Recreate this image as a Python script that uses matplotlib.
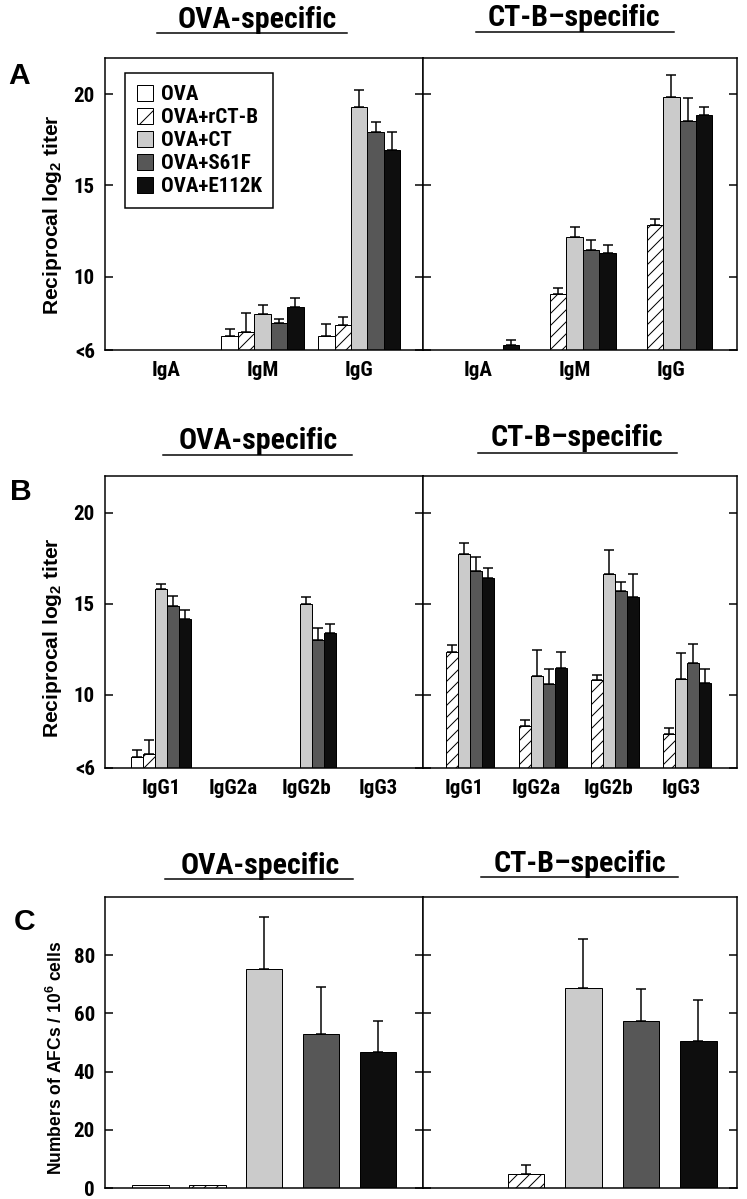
import numpy as np
import matplotlib
matplotlib.use('Agg')
import matplotlib.pyplot as plt
from matplotlib import font_manager as fm
from matplotlib.lines import Line2D
from matplotlib.patches import Patch

nan = np.nan

# ---------------- data ----------------
series = ['OVA', 'OVA+rCT-B', 'OVA+CT', 'OVA+S61F', 'OVA+E112K']
iso_A = ['IgA', 'IgM', 'IgG']
iso_B = ['IgG1', 'IgG2a', 'IgG2b', 'IgG3']

# Panel A (reciprocal log2 titer); nan = below detection (<6)
A_ova_mean = [[nan, nan, nan, nan, nan],
              [6.77, 7.01, 7.97, 7.50, 8.33],
              [6.77, 7.36, 19.31, 17.95, 16.92]]
A_ova_err = [[nan, nan, nan, nan, nan],
             [0.37, 0.99, 0.51, 0.19, 0.50],
             [0.65, 0.42, 0.92, 0.51, 1.03]]
A_ctb_mean = [[nan, nan, nan, nan, 6.26],
              [nan, 9.07, 12.18, 11.48, 11.31],
              [nan, 12.82, 19.86, 18.50, 18.83]]
A_ctb_err = [[nan, nan, nan, nan, 0.31],
             [nan, 0.31, 0.53, 0.53, 0.44],
             [nan, 0.37, 1.18, 1.27, 0.48]]

# Panel B (IgG subclasses)
B_ova_mean = [[6.59, 6.74, 15.83, 14.86, 14.18],
              [nan, nan, nan, nan, nan],
              [nan, nan, 14.99, 12.99, 13.41],
              [nan, nan, nan, nan, nan]]
B_ova_err = [[0.42, 0.82, 0.24, 0.59, 0.48],
             [nan, nan, nan, nan, nan],
             [nan, nan, 0.39, 0.66, 0.46],
             [nan, nan, nan, nan, nan]]
B_ctb_mean = [[nan, 12.38, 17.75, 16.79, 16.39],
              [nan, 8.30, 11.06, 10.63, 11.46],
              [nan, 10.80, 16.64, 15.71, 15.39],
              [nan, 7.84, 10.87, 11.77, 10.65]]
B_ctb_err = [[nan, 0.38, 0.57, 0.79, 0.55],
             [nan, 0.31, 1.41, 0.79, 0.92],
             [nan, 0.31, 1.29, 0.46, 1.24],
             [nan, 0.33, 1.44, 1.03, 0.77]]

# Panel C (AFCs / 10^6 cells)
C_ova_mean = [1.0, 1.0, 75.4, 52.9, 46.6]
C_ova_err = [0.0, 0.0, 17.7, 16.1, 10.7]
C_ctb_mean = [nan, 4.9, 68.8, 57.3, 50.4]
C_ctb_err = [nan, 2.9, 16.6, 11.2, 14.2]

titer_ticks = [6, 10, 15, 20]
titer_ticklabels = ['<6', '10', '15', '20']
afc_ticks = [0, 20, 40, 60, 80]
afc_ticklabels = ['0', '20', '40', '60', '80']

# ---------------- style ----------------
fills = ['white', 'white', '#cbcbcb', '#575757', '#0e0e0e']
hatches = [None, '//', None, None, None]


def _wnum(w):
    if isinstance(w, (int, float)):
        return w
    return fm.weight_dict.get(str(w).lower(), 400)


# find a bold condensed face (Helvetica Condensed look-alike)
cond_file = None
pref = ['Liberation Sans Narrow', 'Roboto Condensed', 'DejaVu Sans Condensed',
        'Open Sans Condensed', 'Nimbus Sans Narrow', 'Arial Narrow']
cands = []
for f in fm.fontManager.ttflist:
    narrow = ('Narrow' in f.name or 'Condensed' in f.name or
              str(f.stretch) in ('condensed', 'semi-condensed', 'extra-condensed') or
              (isinstance(f.stretch, (int, float)) and f.stretch < 500))
    if narrow and _wnum(f.weight) >= 600 and 'Mono' not in f.name and 'Serif' not in f.name \
            and 'italic' not in str(f.style).lower() and 'oblique' not in str(f.style).lower():
        cands.append(f)
for p in pref:
    for f in cands:
        if f.name == p:
            cond_file = f.fname
            break
    if cond_file:
        break
if cond_file is None and cands:
    cond_file = cands[0].fname

names = {f.name for f in fm.fontManager.ttflist}
WIDE = 'Liberation Sans' if 'Liberation Sans' in names else 'DejaVu Sans'


def CF(size):
    if cond_file:
        return fm.FontProperties(fname=cond_file, size=size)
    fam = 'Roboto' if 'Roboto' in names else 'DejaVu Sans'
    return fm.FontProperties(family=fam, weight='bold', size=size * 0.85)


plt.rcParams['hatch.linewidth'] = 1.0
plt.rcParams['mathtext.fontset'] = 'custom'
plt.rcParams['mathtext.bf'] = WIDE + ':bold'
plt.rcParams['mathtext.rm'] = WIDE + ':bold'
plt.rcParams['mathtext.default'] = 'bf'

W, H = 747, 1199
DPI = 72
fig = plt.figure(figsize=(W / DPI, H / DPI), dpi=DPI)

XL, XD, XR = 105, 423, 737


def fx(px):
    return px / W


def fy(py):
    return 1 - py / H


def make_row(top, bottom):
    axl = fig.add_axes([fx(XL), fy(bottom), fx(XD - XL), (bottom - top) / H])
    axr = fig.add_axes([fx(XD), fy(bottom), fx(XR - XD), (bottom - top) / H])
    for ax in (axl, axr):
        for sp in ax.spines.values():
            sp.set_linewidth(1.5)
        ax.tick_params(axis='y', which='both', direction='in', length=8, width=1.5,
                       left=True, right=True)
        ax.tick_params(axis='x', length=0, pad=11)
    axl.tick_params(axis='y', pad=10)
    axr.tick_params(axis='y', labelleft=False)
    return axl, axr


def draw_groups(ax, means, errs, bw, baseline):
    for g, (mrow, erow) in enumerate(zip(means, errs)):
        for s in range(5):
            m = mrow[s]
            if np.isnan(m):
                continue
            x = g + (s - 2) * bw
            ax.bar(x, m - baseline, bottom=baseline, width=bw, color=fills[s],
                   hatch=hatches[s], edgecolor='black', linewidth=1.0, zorder=2)
            e = erow[s]
            if e > 0:
                ax.errorbar([x], [m], yerr=[[0], [e]], fmt='none', ecolor='black',
                            elinewidth=1.5, capsize=5, capthick=1.5, zorder=3)


def title_pair(base_ova, ul_ova, x_ova, tx_ova, base_ctb, ul_ctb, x_ctb, tx_ctb):
    fig.text(fx(tx_ova), fy(base_ova), 'OVA-specific', ha='center', va='baseline',
             fontproperties=CF(30))
    fig.text(fx(tx_ctb), fy(base_ctb), 'CT-B\u2013specific', ha='center', va='baseline',
             fontproperties=CF(30))
    fig.add_artist(Line2D([fx(x_ova[0]), fx(x_ova[1])], [fy(ul_ova)] * 2,
                          color='black', lw=1.5))
    fig.add_artist(Line2D([fx(x_ctb[0]), fx(x_ctb[1])], [fy(ul_ctb)] * 2,
                          color='black', lw=1.5))


def style_xlabels(ax):
    for lab in ax.get_xticklabels():
        lab.set_fontproperties(CF(21))


def style_ylabels(ax):
    for lab in ax.get_yticklabels():
        lab.set_fontproperties(CF(21))


# ---------------- Panel A ----------------
aL, aR = make_row(57.5, 350)
draw_groups(aL, A_ova_mean, A_ova_err, 0.17, 6)
draw_groups(aR, A_ctb_mean, A_ctb_err, 0.17, 6)
aL.set_xlim(-0.63, 2.66)
aR.set_xlim(-0.57, 2.68)
for ax in (aL, aR):
    ax.set_ylim(6, 22)
    ax.set_yticks(titer_ticks)
    ax.set_xticks(range(len(iso_A)))
    ax.set_xticklabels(iso_A)
    style_xlabels(ax)
aL.set_yticklabels(titer_ticklabels)
style_ylabels(aL)
handles = [Patch(facecolor=fills[i], edgecolor='black', hatch=('/' if hatches[i] else None),
                 linewidth=1.0) for i in range(5)]
leg = aL.legend(handles, series, loc='upper left', bbox_to_anchor=(0.063, 0.947),
                frameon=True, fancybox=False, edgecolor='black', framealpha=1,
                handlelength=0.8, handleheight=0.8, handletextpad=0.35,
                labelspacing=0.18, borderpad=0.55, borderaxespad=0,
                prop=CF(21))
leg.get_frame().set_linewidth(1.5)
title_pair(28, 33, (157, 347), 257, 26, 32, (476, 674), 574)
fig.text(fx(8), fy(84), 'A', fontsize=30, fontweight='bold', family=WIDE,
         ha='left', va='baseline')
fig.text(fx(53), fy(215), 'Reciprocal log$_2$ titer', rotation=90, ha='center',
         va='center', fontsize=21, fontweight='bold', family=WIDE)

# ---------------- Panel B ----------------
bL, bR = make_row(476, 768)
draw_groups(bL, B_ova_mean, B_ova_err, 0.166, 6)
draw_groups(bR, B_ctb_mean, B_ctb_err, 0.166, 6)
bL.set_xlim(-0.77, 3.61)
bR.set_xlim(-0.57, 3.77)
for ax in (bL, bR):
    ax.set_ylim(6, 22)
    ax.set_yticks(titer_ticks)
    ax.set_xticks(range(len(iso_B)))
    ax.set_xticklabels(iso_B)
    style_xlabels(ax)
bL.set_yticklabels(titer_ticklabels)
style_ylabels(bL)
title_pair(449, 455, (163, 352), 258, 446, 453, (478, 677), 577)
fig.text(fx(10), fy(500), 'B', fontsize=30, fontweight='bold', family=WIDE,
         ha='left', va='baseline')
fig.text(fx(53), fy(638), 'Reciprocal log$_2$ titer', rotation=90, ha='center',
         va='center', fontsize=21, fontweight='bold', family=WIDE)

# ---------------- Panel C ----------------
cL, cR = make_row(897, 1188)
for ax, means, errs in ((cL, C_ova_mean, C_ova_err), (cR, C_ctb_mean, C_ctb_err)):
    for s in range(5):
        m = means[s]
        if np.isnan(m):
            continue
        ax.bar(s, m, width=0.64, color=fills[s], hatch=hatches[s],
               edgecolor='black', linewidth=1.0, zorder=2)
        if errs[s] > 0:
            ax.errorbar([s], [m], yerr=[[0], [errs[s]]], fmt='none', ecolor='black',
                        elinewidth=1.5, capsize=5, capthick=1.5, zorder=3)
cL.set_xlim(-0.80, 4.79)
cR.set_xlim(-0.79, 4.67)
for ax in (cL, cR):
    ax.set_ylim(0, 100)
    ax.set_yticks(afc_ticks)
    ax.set_xticks([])
cL.set_yticklabels(afc_ticklabels)
style_ylabels(cL)
title_pair(874, 879, (165, 353), 260, 872, 877, (481, 678), 580)
fig.text(fx(14), fy(930), 'C', fontsize=30, fontweight='bold', family=WIDE,
         ha='left', va='baseline')
fig.text(fx(56), fy(1058), 'Numbers of AFCs / 10$^6$ cells', rotation=90, ha='center',
         va='center', fontsize=17.5, fontweight='bold', family=WIDE)

fig.savefig('out.png', dpi=DPI)
